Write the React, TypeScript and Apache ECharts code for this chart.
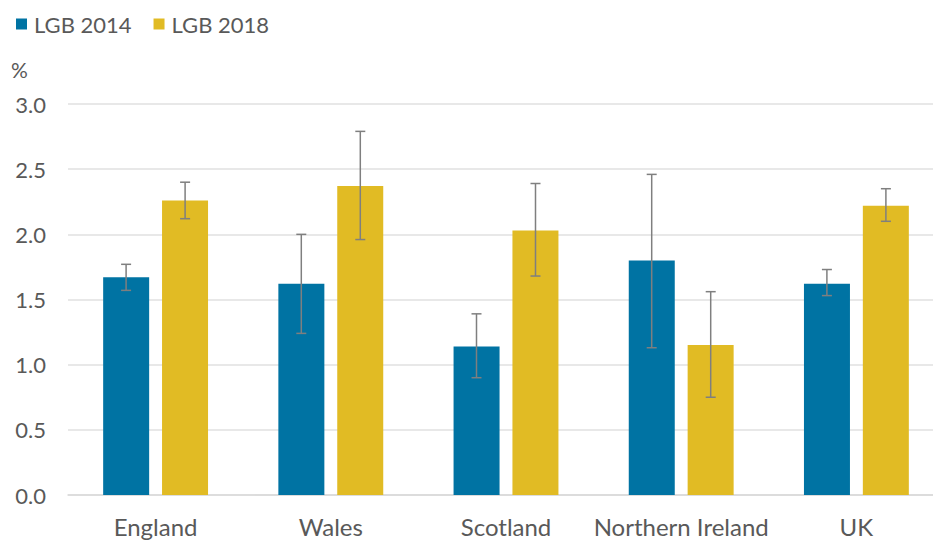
import React, { useEffect, useRef } from "react";
import * as echarts from "echarts";

const categories = ["England", "Wales", "Scotland", "Northern Ireland", "UK"];
const lgb2014 = [1.67, 1.62, 1.14, 1.8, 1.62];
const lgb2014Low = [1.57, 1.24, 0.9, 1.13, 1.53];
const lgb2014High = [1.77, 2.0, 1.39, 2.46, 1.73];
const lgb2018 = [2.26, 2.37, 2.03, 1.15, 2.22];
const lgb2018Low = [2.12, 1.96, 1.68, 0.75, 2.1];
const lgb2018High = [2.4, 2.79, 2.39, 1.56, 2.35];
const yTicks = [0, 0.5, 1, 1.5, 2, 2.5, 3];

const BLUE = "#0073A3";
const YELLOW = "#E1BB24";
const FONT = "Lato, 'Open Sans', sans-serif";

function errorSeries(low: number[], high: number[], offset: number) {
  return {
    type: "custom",
    silent: true,
    z: 5,
    data: low.map((l, i) => [i, l, high[i]]),
    encode: { x: 0, y: [1, 2] },
    renderItem: (params: any, api: any) => {
      const x = api.value(0);
      const lo = api.coord([x, api.value(1)]);
      const hi = api.coord([x, api.value(2)]);
      const cx = lo[0] + offset;
      const cap = 5;
      const style = { stroke: "#7F7F7F", lineWidth: 1.5 };
      return {
        type: "group",
        children: [
          { type: "line", shape: { x1: cx, y1: lo[1], x2: cx, y2: hi[1] }, style },
          { type: "line", shape: { x1: cx - cap, y1: lo[1], x2: cx + cap, y2: lo[1] }, style },
          { type: "line", shape: { x1: cx - cap, y1: hi[1], x2: cx + cap, y2: hi[1] }, style },
        ],
      };
    },
  };
}

export default function App() {
  const ref = useRef<HTMLDivElement>(null);
  useEffect(() => {
    const chart = echarts.init(ref.current!, null, { renderer: "svg" });
    chart.setOption({
      animation: false,
      backgroundColor: "#ffffff",
      legend: {
        left: 11,
        top: 8,
        icon: "rect",
        itemWidth: 11,
        itemHeight: 11,
        itemGap: 22,
        textStyle: { fontFamily: FONT, fontSize: 22, color: "#595959", padding: [0, 0, 0, 2] },
        data: ["LGB 2014", "LGB 2018"],
      },
      graphic: [
        {
          type: "text",
          left: 11,
          top: 59,
          style: { text: "%", fontFamily: FONT, fontSize: 21, fill: "#595959" },
        },
      ],
      grid: { left: 68, right: 0, top: 104, bottom: 46, containLabel: false },
      xAxis: {
        type: "category",
        data: categories,
        axisLine: { show: true, lineStyle: { color: "#D9D9D9", width: 1.5 } },
        axisTick: { show: false },
        axisLabel: { fontFamily: FONT, fontSize: 24, color: "#595959", margin: 19, interval: 0 },
      },
      yAxis: {
        type: "value",
        min: yTicks[0],
        max: yTicks[yTicks.length - 1],
        interval: 0.5,
        axisLine: { show: false },
        axisTick: { show: false },
        splitLine: { lineStyle: { color: "#E0E0E0", width: 1.5 } },
        axisLabel: {
          fontFamily: FONT,
          fontSize: 22,
          color: "#595959",
          margin: 22,
          formatter: (v: number) => v.toFixed(1),
        },
      },
      series: [
        {
          name: "LGB 2014",
          type: "bar",
          data: lgb2014,
          barWidth: 46,
          barGap: "28%",
          itemStyle: { color: BLUE },
        },
        {
          name: "LGB 2018",
          type: "bar",
          data: lgb2018,
          barWidth: 46,
          itemStyle: { color: YELLOW },
        },
        errorSeries(lgb2014Low, lgb2014High, -29.5),
        errorSeries(lgb2018Low, lgb2018High, 29.5),
      ],
    });
    return () => chart.dispose();
  }, []);
  return (
    <div style={{ width: 933, height: 541, position: "absolute", left: 0, top: 0, overflow: "hidden", background: "#fff" }}>
      <div ref={ref} style={{ width: 944, height: 541 }} />
    </div>
  );
}
